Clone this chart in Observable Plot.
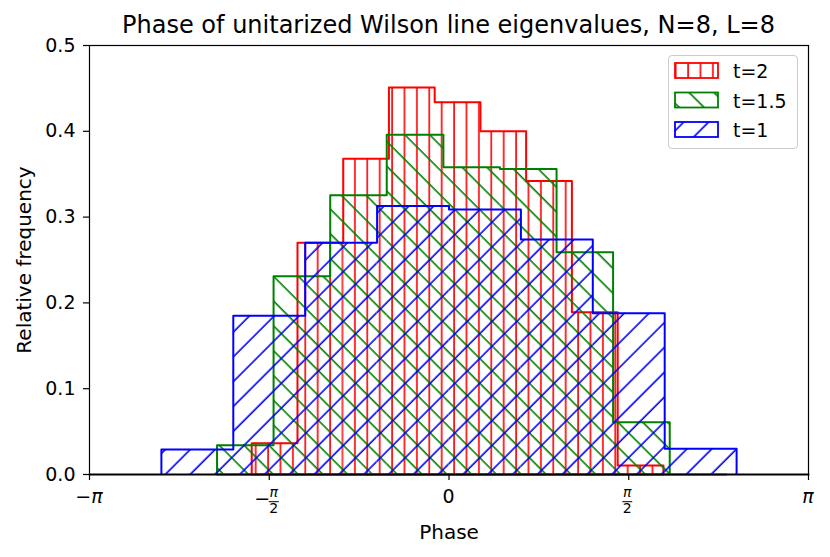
<!DOCTYPE html>
<html>
<head>
<meta charset="utf-8">
<script src="https://cdn.jsdelivr.net/npm/d3@7"></script>
<script src="https://cdn.jsdelivr.net/npm/@observablehq/plot@0.6"></script>
<style>
  body { margin: 0; background: #fff; font-family: "DejaVu Sans", sans-serif; }
  #wrap { position: relative; width: 830px; height: 557px; background: #fff; }
  #title { height: 36px; box-sizing: border-box; width: 808px; padding-left: 89px; padding-top: 12.7px;
           text-align: center; font-size: 24px; line-height: 24px; white-space: nowrap; color: #000; }
  #legend { position: absolute; left: 668px; top: 55px; width: 130px; height: 94px; box-sizing: border-box;
            border: 1px solid #cccccc; border-radius: 4px; background: rgba(255,255,255,0.8); }
  #legend svg { position: absolute; left: -1px; top: -1px; }
</style>
</head>
<body>
<svg width="0" height="0" style="position:absolute">
  <defs>
    <pattern id="hatch-red" patternUnits="userSpaceOnUse" width="12.4" height="12.4">
      <line x1="7.7" y1="-1" x2="7.7" y2="13.4" stroke="#ff0000" stroke-width="1.6"/>
    </pattern>
    <pattern id="hatch-green" patternUnits="userSpaceOnUse" width="17.54" height="17.54" patternTransform="rotate(-45)">
      <line x1="6" y1="-1" x2="6" y2="18.54" stroke="#008000" stroke-width="1.6"/>
    </pattern>
    <pattern id="hatch-blue" patternUnits="userSpaceOnUse" width="17.54" height="17.54" patternTransform="rotate(45)">
      <line x1="6" y1="-1" x2="6" y2="18.54" stroke="#0000ff" stroke-width="1.6"/>
    </pattern>
  </defs>
</svg>
<div id="wrap">
  <div id="title">Phase of unitarized Wilson line eigenvalues, N=8, L=8</div>
  <div id="chart"></div>
  <div id="legend"></div>
</div>
<script>
// ---- data ----
const seriesLabels = ["t=2", "t=1.5", "t=1"];
const seriesColors = ["#ff0000", "#008000", "#0000ff"];
const seriesPatterns = ["hatch-red", "hatch-green", "hatch-blue"];

// t=2 (red) histogram: bin edges (radians) and relative frequencies
const redEdges = [-1.724, -1.324, -0.924, -0.525, -0.125, 0.275, 0.674, 1.074, 1.474, 1.874];
const redFreq  = [0.0365, 0.270, 0.368, 0.451, 0.434, 0.400, 0.342, 0.189, 0.0105];

// t=1.5 (green)
const greenEdges = [-2.027, -1.533, -1.038, -0.544, -0.049, 0.445, 0.940, 1.434, 1.929, 2.423];
const greenFreq  = [0.034, 0.231, 0.3255, 0.396, 0.358, 0.356, 0.259, 0.061, 0];

// t=1 (blue)
const blueEdges = [-3.1416, -2.5133, -1.8850, -1.2566, -0.6283, 0, 0.6283, 1.2566, 1.8850, 2.5133, 3.1416];
const blueFreq  = [0, 0.029, 0.185, 0.270, 0.313, 0.309, 0.274, 0.188, 0.030, 0];

const yTicks = [0, 0.1, 0.2, 0.3, 0.4, 0.5];
const xTickValues = [-Math.PI, -Math.PI / 2, 0, Math.PI / 2, Math.PI];
const xTickLabels = ["−π", "−π/2", "0", "π/2", "π"];

// ---- build tables ----
function makeSeries(edges, freq, color, pat) {
  const bins = freq.map((v, i) => ({x1: edges[i], x2: edges[i + 1], y0: 0, y: v}));
  const outline = [{x: edges[0], y: 0}]
    .concat(bins.map(b => ({x: b.x1, y: b.y})))
    .concat([{x: edges[edges.length - 1], y: 0}, {x: edges[0], y: 0}]);
  return {bins, outline, color, pat};
}
const series = [
  makeSeries(redEdges, redFreq, seriesColors[0], seriesPatterns[0]),
  makeSeries(greenEdges, greenFreq, seriesColors[1], seriesPatterns[1]),
  makeSeries(blueEdges, blueFreq, seriesColors[2], seriesPatterns[2])
];

const chart = Plot.plot({
  width: 830,
  height: 521,
  marginLeft: 89,
  marginRight: 22,
  marginTop: 9,
  marginBottom: 83,
  x: {domain: [-Math.PI, Math.PI]},
  y: {domain: [0, 0.5]},
  style: {fontFamily: "DejaVu Sans", fontSize: "19px", color: "black", background: "white", overflow: "visible"},
  marks: [
    ...series.flatMap(s => [
      Plot.rect(s.bins, {x1: "x1", x2: "x2", y1: "y0", y2: "y", fill: `url(#${s.pat})`}),
      Plot.line(s.outline, {x: "x", y: "y", curve: "step-after", stroke: s.color, strokeWidth: 2})
    ]),
    Plot.axisY({ticks: yTicks, tickFormat: d3.format(".1f"), tickSize: 6, tickPadding: 8, fontSize: 19, label: null, strokeWidth: 1.2}),
    Plot.axisX({ticks: xTickValues, tickFormat: () => "", tickSize: 6, label: null, strokeWidth: 1.2}),
    Plot.text(["Relative frequency"], {frameAnchor: "left", rotate: -90, dx: -65, fontSize: 20,
      textAnchor: "middle", lineAnchor: "middle", text: d => d}),
    Plot.text(["Phase"], {frameAnchor: "bottom", dy: 58, fontSize: 20,
      textAnchor: "middle", lineAnchor: "middle", text: d => d}),
    Plot.frame({stroke: "black", strokeWidth: 1.2})
  ]
});
document.getElementById("chart").appendChild(chart);

// ---- x tick labels with π fractions, positioned via Plot's x scale ----
const sx = chart.scale("x"), sy = chart.scale("y");
const by = sy.apply(0);
const g = d3.select(chart).append("g").attr("fill", "black").attr("font-family", "DejaVu Sans");
xTickValues.forEach((v, i) => {
  const px = sx.apply(v);
  const lab = xTickLabels[i];
  const neg = lab.startsWith("−");
  const body = neg ? lab.slice(1) : lab;
  if (body.includes("/")) {
    const [num, den] = body.split("/");
    const cx = px + (neg ? 5 : -1);
    if (neg) g.append("text").attr("x", px - 6.6).attr("y", by + 31).attr("text-anchor", "middle").attr("font-size", 19).text("−");
    g.append("text").attr("x", cx).attr("y", by + 22.7).attr("text-anchor", "middle").attr("font-size", 14)
      .attr("font-style", num === "π" ? "italic" : "normal").text(num);
    g.append("line").attr("x1", cx - 5).attr("x2", cx + 5).attr("y1", by + 27.7).attr("y2", by + 27.7)
      .attr("stroke", "black").attr("stroke-width", 1);
    g.append("text").attr("x", cx).attr("y", by + 39.3).attr("text-anchor", "middle").attr("font-size", 14).text(den);
  } else {
    const t = g.append("text").attr("x", px).attr("y", by + 29.3).attr("text-anchor", "middle").attr("font-size", 19);
    if (neg) t.append("tspan").text("−");
    t.append("tspan").attr("font-style", body === "π" ? "italic" : "normal").text(body);
  }
});

// ---- legend ----
const leg = d3.select("#legend").append("svg").attr("width", 130).attr("height", 94);
seriesLabels.forEach((lab, i) => {
  const y0 = 8 + i * 29.5;
  leg.append("rect").attr("x", 7).attr("y", y0).attr("width", 43).attr("height", 15)
    .attr("fill", `url(#${seriesPatterns[i]})`).attr("stroke", seriesColors[i]).attr("stroke-width", 1.8);
  leg.append("text").attr("x", 65).attr("y", y0 + 15.3).attr("font-size", 19)
    .attr("font-family", "DejaVu Sans").attr("fill", "black").text(lab);
});
</script>
</body>
</html>
